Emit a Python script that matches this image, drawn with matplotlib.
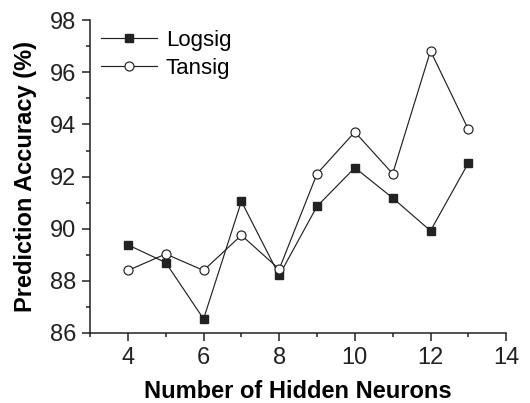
import matplotlib
matplotlib.use("Agg")
import matplotlib.pyplot as plt
from matplotlib.ticker import MultipleLocator

neurons = [4, 5, 6, 7, 8, 9, 10, 11, 12, 13]
logsig = [89.38, 88.70, 86.54, 91.05, 88.21, 90.86, 92.34, 91.18, 89.92, 92.52]
tansig = [88.40, 89.03, 88.40, 89.75, 88.45, 92.11, 93.71, 92.11, 96.82, 93.81]
x_ticks = [4, 6, 8, 10, 12, 14]
y_ticks = [86, 88, 90, 92, 94, 96, 98]

plt.rcParams['font.family'] = ['Liberation Sans', 'DejaVu Sans']

fig = plt.figure(figsize=(5.30, 4.03), dpi=100)
ax = fig.add_axes([0.170, 0.1737, 0.785, 0.7763])

lc = '#222222'
ax.plot(neurons, logsig, color=lc, lw=0.85, marker='s', ms=5.5,
        mfc=lc, mec=lc, label='Logsig')
ax.plot(neurons, tansig, color=lc, lw=0.85, marker='o', ms=6.5,
        mfc='white', mec=lc, mew=0.85, label='Tansig')

ax.set_xlim(3, 14)
ax.set_ylim(86, 98)
ax.set_xticks(x_ticks)
ax.set_yticks(y_ticks)
ax.xaxis.set_minor_locator(MultipleLocator(1))
ax.yaxis.set_minor_locator(MultipleLocator(1))

for s in ['top', 'right']:
    ax.spines[s].set_visible(False)
for s in ['left', 'bottom']:
    ax.spines[s].set_linewidth(1.1)
    ax.spines[s].set_color(lc)

ax.tick_params(which='major', length=6, width=1.1, direction='out', labelsize=17, colors=lc, pad=4)
ax.tick_params(which='minor', length=3, width=1.1, direction='out', colors=lc)

ax.set_xlabel('Number of Hidden Neurons', fontsize=17, fontweight='bold', labelpad=8)
ax.set_ylabel('Prediction Accuracy (%)', fontsize=17, fontweight='bold', labelpad=9)

ax.legend(loc='upper left', frameon=False, fontsize=16, handlelength=2.5,
          handletextpad=0.4, borderaxespad=0.0, labelspacing=0.3,
          borderpad=0.0, bbox_to_anchor=(0.027, 0.969))

fig.savefig('out.png', dpi=100)
